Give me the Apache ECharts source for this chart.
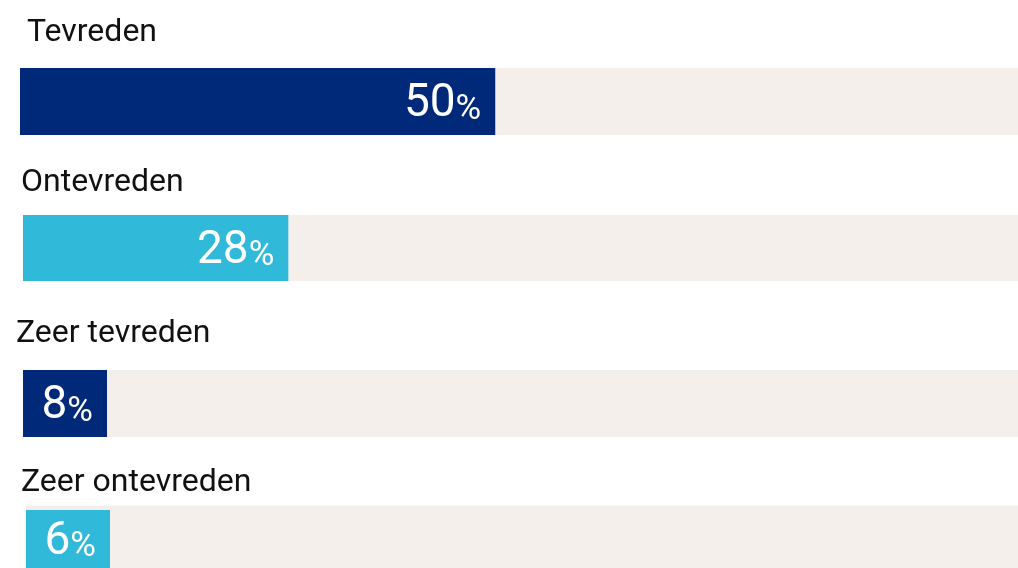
<!DOCTYPE html>
<html><head><meta charset="utf-8">
<script src="https://cdn.jsdelivr.net/npm/echarts@6/dist/echarts.min.js"></script>
<style>html,body{margin:0;padding:0;background:#fff}#c{width:1018px;height:568px}</style>
</head><body><div id="c"></div>
<script>
// ---- data ----
const categories = ['Tevreden', 'Ontevreden', 'Zeer tevreden', 'Zeer ontevreden'];
const values = [50, 28, 8, 6];

// ---- styling / layout ----
const navy = '#00297a', cyan = '#30b9d8', track = '#f4efeb';
const barColors = [navy, cyan, navy, cyan];
const rows = [
  { gridLeft: 20, gridTop: 68, h: 67, titleLeft: 27, titleTop: 17 },
  { gridLeft: 23, gridTop: 215, h: 66, titleLeft: 21, titleTop: 167 },
  { gridLeft: 23, gridTop: 370, h: 67, titleLeft: 16, titleTop: 318 },
  { gridLeft: 26, gridTop: 510, h: 67, titleLeft: 21, titleTop: 467 }
];
const FONT = 'Roboto, "Noto Sans", sans-serif';

const option = {
  animation: false,
  backgroundColor: '#ffffff',
  title: categories.map((c, i) => ({
    text: c, left: rows[i].titleLeft, top: rows[i].titleTop, padding: 0,
    textStyle: { fontFamily: FONT, fontSize: 32, fontWeight: 'normal', color: '#111111' }
  })),
  grid: rows.map(r => ({ left: r.gridLeft, right: 0, top: r.gridTop, height: r.h, containLabel: false })),
  xAxis: rows.map((r, i) => ({ type: 'value', gridIndex: i, min: 0, max: 105, show: false })),
  yAxis: rows.map((r, i) => ({ type: 'category', gridIndex: i, data: [categories[i]], show: false })),
  series: categories.map((c, i) => ({
    type: 'bar', xAxisIndex: i, yAxisIndex: i,
    data: [values[i]],
    barWidth: rows[i].h,
    barMinHeight: 84,
    showBackground: true,
    backgroundStyle: { color: track },
    itemStyle: { color: barColors[i] },
    label: {
      show: true, position: 'insideRight', distance: 14, offset: [0, 3],
      formatter: p => '{v|' + p.value + '}{p|%}',
      rich: {
        v: { fontFamily: FONT, fontSize: 46, color: '#ffffff', verticalAlign: 'bottom', lineHeight: 46 },
        p: { fontFamily: FONT, fontSize: 35, color: '#ffffff', verticalAlign: 'bottom', lineHeight: 40 }
      }
    }
  }))
};
const chart = echarts.init(document.getElementById('c'), null, { renderer: 'canvas' });
chart.setOption(option);
</script>
</body></html>
